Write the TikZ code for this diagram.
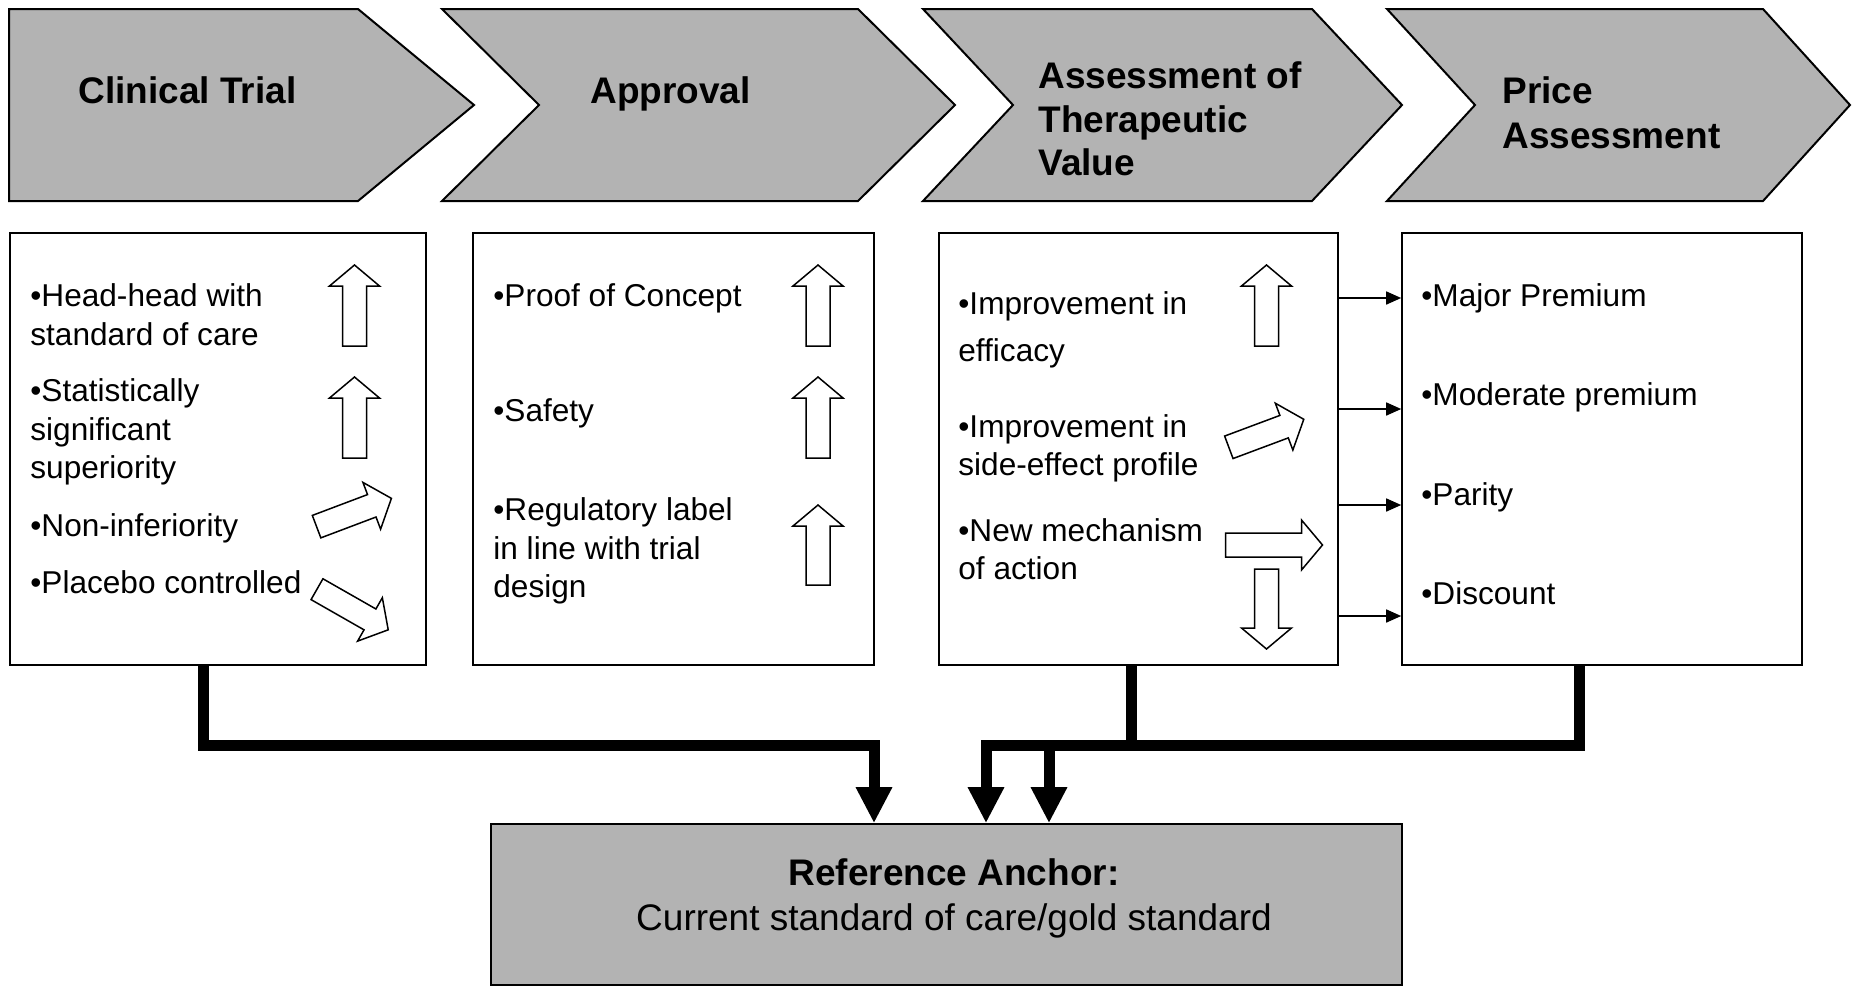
\documentclass[tikz,border=0pt]{standalone}
\usepackage{fontspec}
\setmainfont{Liberation Sans}
\usetikzlibrary{arrows.meta,calc}
\definecolor{chevgray}{RGB}{179,179,179}
\begin{document}
\begin{tikzpicture}[x=0.5pt,y=-0.5pt,
  chev/.style={draw=black, line width=1pt, fill=chevgray, line join=miter},
  box/.style={draw=black, line width=0.8pt, fill=white, inner sep=0pt, rectangle},
  refboxstyle/.style={draw=black, line width=0.8pt, fill=chevgray, inner sep=0pt, rectangle},
  bodytxt/.style={anchor=base west, inner sep=0pt, font=\fontsize{15.8}{19}\selectfont},
  headtxt/.style={anchor=base west, inner sep=0pt, font=\fontsize{18.5}{22.2}\selectfont\bfseries},
  reftxt/.style={anchor=base, inner sep=0pt, font=\fontsize{18.5}{22.2}\selectfont},
  conn/.style={line width=5.5pt, line join=miter},
  connarrow/.style={conn, -{Triangle[width=17pt,length=18pt]}},
  smallarr/.style={line width=0.8pt, -{Triangle[width=6.5pt,length=7.5pt]}},
  hollow/.style={draw=black, line width=0.75pt, fill=white, line join=miter},
  pics/blockarr/.style={code={
    \draw[hollow] ({-#1},-12) -- ({#1-21},-12) -- ({#1-21},-25) -- ({#1},0)
      -- ({#1-21},25) -- ({#1-21},12) -- ({-#1},12) -- cycle;}}
]
\useasboundingbox (0,0) rectangle (1854,986);

% ---------- chevrons ----------
\draw[chev] (9,9) -- (358,9) -- (474,105) -- (358,201) -- (9,201) -- cycle;
\draw[chev] (442,9) -- (858,9) -- (955,105) -- (858,201) -- (442,201) -- (539,105) -- cycle;
\draw[chev] (923,9) -- (1312,9) -- (1402,105) -- (1312,201) -- (923,201) -- (1013,105) -- cycle;
\draw[chev] (1387,9) -- (1763,9) -- (1850,105) -- (1763,201) -- (1387,201) -- (1475,105) -- cycle;

\node[headtxt] (h1) at (78,103) {Clinical Trial};
\node[headtxt] (h2) at (590,103) {Approval};
\node[headtxt] (h3a) at (1038,88) {Assessment of};
\node[headtxt] (h3b) at (1038,132) {Therapeutic};
\node[headtxt] (h3c) at (1038,175) {Value};
\node[headtxt] (h4a) at (1502,103) {Price};
\node[headtxt] (h4b) at (1502,148) {Assessment};

% ---------- boxes ----------
\node[box, minimum width=208pt, minimum height=216pt] (box1) at (218,449) {};
\node[box, minimum width=200.5pt, minimum height=216pt] (box2) at (673.5,449) {};
\node[box, minimum width=199.5pt, minimum height=216pt] (box3) at (1138.5,449) {};
\node[box, minimum width=200pt, minimum height=216pt] (box4) at (1602,449) {};
\node[refboxstyle, minimum width=455.5pt, minimum height=80.5pt] (refbox) at (946.5,904.5) {};

% ---------- box 1 text ----------
\node[bodytxt] (b1a) at (30,306) {•Head-head with};
\node[bodytxt] (b1b) at (30,345) {standard of care};
\node[bodytxt] (b1c) at (30,401) {•Statistically};
\node[bodytxt] (b1d) at (30,440) {significant};
\node[bodytxt] (b1e) at (30,478) {superiority};
\node[bodytxt] (b1f) at (30,536) {•Non-inferiority};
\node[bodytxt] (b1g) at (30,593) {•Placebo controlled};

% ---------- box 2 text ----------
\node[bodytxt] (b2a) at (493,306) {•Proof of Concept};
\node[bodytxt] (b2b) at (493,421) {•Safety};
\node[bodytxt] (b2c) at (493,520) {•Regulatory label};
\node[bodytxt] (b2d) at (493,559) {in line with trial};
\node[bodytxt] (b2e) at (493,597) {design};

% ---------- box 3 text ----------
\node[bodytxt] (b3a) at (958,314) {•Improvement in};
\node[bodytxt] (b3b) at (958,361) {efficacy};
\node[bodytxt] (b3c) at (958,437) {•Improvement in};
\node[bodytxt] (b3d) at (958,475) {side-effect profile};
\node[bodytxt] (b3e) at (958,541) {•New mechanism};
\node[bodytxt] (b3f) at (958,579) {of action};

% ---------- box 4 text ----------
\node[bodytxt] (b4a) at (1421,306) {•Major Premium};
\node[bodytxt] (b4b) at (1421,405) {•Moderate premium};
\node[bodytxt] (b4c) at (1421,505) {•Parity};
\node[bodytxt] (b4d) at (1421,604) {•Discount};

% ---------- reference anchor text ----------
\node[reftxt, font=\fontsize{18.5}{22.2}\selectfont\bfseries] (r1) at (954,885) {Reference Anchor:};
\node[reftxt] (r2) at (954,930) {Current standard of care/gold standard};

% ---------- hollow block arrows ----------
\pic[rotate=90] (a11) at (354.5,305.5) {blockarr=40.5};
\pic[rotate=90] (a12) at (354.5,417.5) {blockarr=40.5};
\pic[rotate=20.7] (a13) at (354,512.5) {blockarr=40};
\pic[rotate=-29.7] (a14) at (352.6,609.5) {blockarr=41};

\pic[rotate=90] (a21) at (818,305.5) {blockarr=40.5};
\pic[rotate=90] (a22) at (818,417.5) {blockarr=40.5};
\pic[rotate=90] (a23) at (818,545) {blockarr=40};

\pic[rotate=90] (a31) at (1266.5,305.5) {blockarr=40.5};
\pic[rotate=20.5] (a32) at (1266.3,433.3) {blockarr=40};
\pic[rotate=0] (a33) at (1274,545) {blockarr=48.5};
\pic[rotate=-90] (a34) at (1266.5,609) {blockarr=40};

% ---------- small arrows box3 -> box4 ----------
\coordinate (lv1) at (0,298);
\coordinate (lv2) at (0,409);
\coordinate (lv3) at (0,505);
\coordinate (lv4) at (0,616);
\foreach \l in {lv1,lv2,lv3,lv4}
  \draw[smallarr] (box3.east |- \l) -- (box4.west |- \l);

% ---------- thick connectors ----------
\coordinate (c1) at (203,745.5);
\coordinate (d1) at (874,745.5);
\coordinate (d2) at (986,745.5);
\coordinate (d3) at (1049,745.5);
\coordinate (c3) at (1131,745.5);
\coordinate (c4) at (1579,745.5);

\draw[connarrow] (box1.south -| c1) -- (c1) -- (d1) -- (refbox.north -| d1);
\draw[connarrow] (box4.south -| c4) -- (c4) -- (d2) -- (refbox.north -| d2);
\draw[conn] (box3.south -| c3) -- (c3);
\draw[connarrow] (d3) -- (refbox.north -| d3);
\end{tikzpicture}
\end{document}
